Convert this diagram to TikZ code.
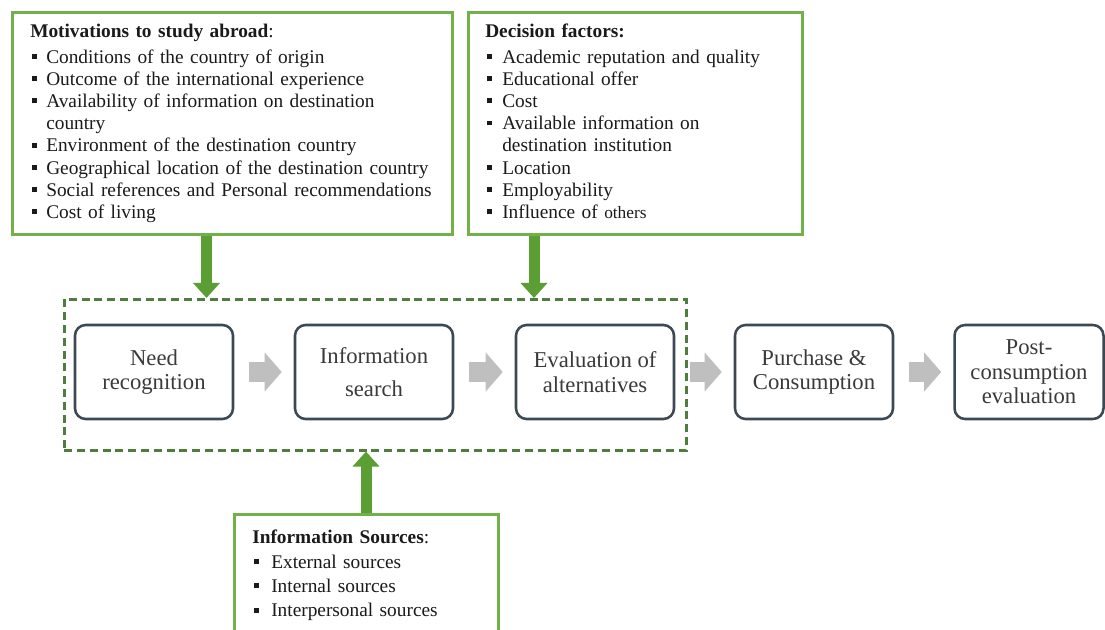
\documentclass[tikz,border=0pt]{standalone}
\usepackage{fontspec}
\setmainfont{Liberation Serif}
\usetikzlibrary{arrows.meta,calc}
\definecolor{gbord}{HTML}{72B04A}
\definecolor{garr}{HTML}{5B9E33}
\definecolor{garrdark}{HTML}{4A8A2A}
\definecolor{dashcol}{HTML}{4E7D3F}
\definecolor{procbord}{HTML}{3C4852}
\definecolor{grayarr}{HTML}{BFBFBF}
\definecolor{txtcol}{HTML}{1A1A1A}
\definecolor{proctxt}{HTML}{3A3A3A}
\newlength\itmind
\setlength\itmind{12pt}
\newcommand\bul{\rule[0.22em]{3.6pt}{3.6pt}}
\newcommand\itm{\par\hangindent=\itmind\hangafter=1\noindent\makebox[\itmind][l]{\hspace{1.5pt}\bul}}
\tikzset{
  gbox/.style={draw=gbord, line width=2.2pt, fill=white, inner sep=0pt, anchor=north west},
  listtxt/.style={text=txtcol, anchor=base west, inner sep=0pt, text width=330pt, align=left,
    font=\fontsize{14.5}{16.65}\selectfont},
  proc/.style={draw=procbord, line width=1.9pt, rounded corners=8pt, minimum width=158*0.75pt,
    minimum height=94*0.75pt, inner sep=0pt, align=center, text=proctxt,
    font=\fontsize{17}{18.3}\selectfont},
  dashbox/.style={draw=dashcol, line width=1.9pt, dash pattern=on 6pt off 3.6pt, inner sep=0pt,
    anchor=north west, minimum width=622*0.75pt, minimum height=151*0.75pt},
  grayarrow/.style={draw=grayarr, line width=15pt, -{Triangle[width=28.5pt,length=12.75pt]}},
  greenarrow/.style={draw=garr, line width=8.25pt, -{Triangle[width=19.5pt,length=11.25pt]}},
}
\begin{document}
\begin{tikzpicture}[x=0.75pt,y=-0.75pt]
\clip (0,0) rectangle (1105,630);
\fill[white] (0,0) rectangle (1105,630);
% boxes
\node[gbox, minimum width=440*0.75pt, minimum height=222*0.75pt] (mot) at (11,11) {};
\node[gbox, minimum width=334*0.75pt, minimum height=222*0.75pt] (dec) at (467,11) {};
\node[gbox, minimum width=264*0.75pt, minimum height=140*0.75pt] (src) at (233,513) {};
\node[listtxt] (mottxt) at (30,38) {{\bfseries Motivations to study abroad}:\par\vspace{2.2pt}%
\itm Conditions of the country of origin
\itm Outcome of the international experience
\itm Availability of information on destination\break country
\itm Environment of the destination country
\itm Geographical location of the destination country
\itm Social references and Personal recommendations
\itm Cost of living};
\node[listtxt] (dectxt) at (485,38) {\setlength\itmind{12.75pt}{\bfseries Decision factors:}\par\vspace{2.2pt}%
\itm Academic reputation and quality
\itm Educational offer
\itm Cost
\itm Available information on\break destination institution
\itm Location
\itm Employability
\itm Influence of {\fontsize{13}{16.65}\selectfont others}};
\node[listtxt, font=\fontsize{14.5}{18.3}\selectfont] (srctxt) at (252,543) {\setlength\itmind{14.25pt}{\bfseries Information Sources}:\par\vspace{0.5pt}%
\itm External sources
\itm Internal sources
\itm Interpersonal sources};
% dashed group
\node[dashbox] (grp) at (63,298) {};
% process
\node[proc] (need) at (154,372) {Need\\recognition};
\node[proc] (info) at (374,372) {Information\\[7pt]search};
\node[proc] (eval) at (595,372) {Evaluation of\\alternatives};
\node[proc] (pur) at (814,372) {Purchase \&\\Consumption};
\node[proc, minimum width=149*0.75pt] (post) at (1029,372) {Post-\\consumption\\evaluation};
% gray arrows
\draw[grayarrow] ($(need.east)+(15,0)$) -- ($(info.west)+(-12,0)$);
\draw[grayarrow] ($(info.east)+(15,0)$) -- ($(eval.west)+(-12,0)$);
\draw[grayarrow] ($(eval.east)+(15,0)$) -- ($(pur.west)+(-12,0)$);
\draw[grayarrow] ($(pur.east)+(15,0)$) -- ($(post.west)+(-12,0)$);
% green arrows
\coordinate (a1) at (206.5,0);
\coordinate (a2) at (534,0);
\coordinate (a3) at (366,0);
\draw[greenarrow] (mot.south -| a1) -- (grp.north -| a1);
\draw[greenarrow] (dec.south -| a2) -- (grp.north -| a2);
\draw[greenarrow] (src.north -| a3) -- (grp.south -| a3);
\end{tikzpicture}
\end{document}
